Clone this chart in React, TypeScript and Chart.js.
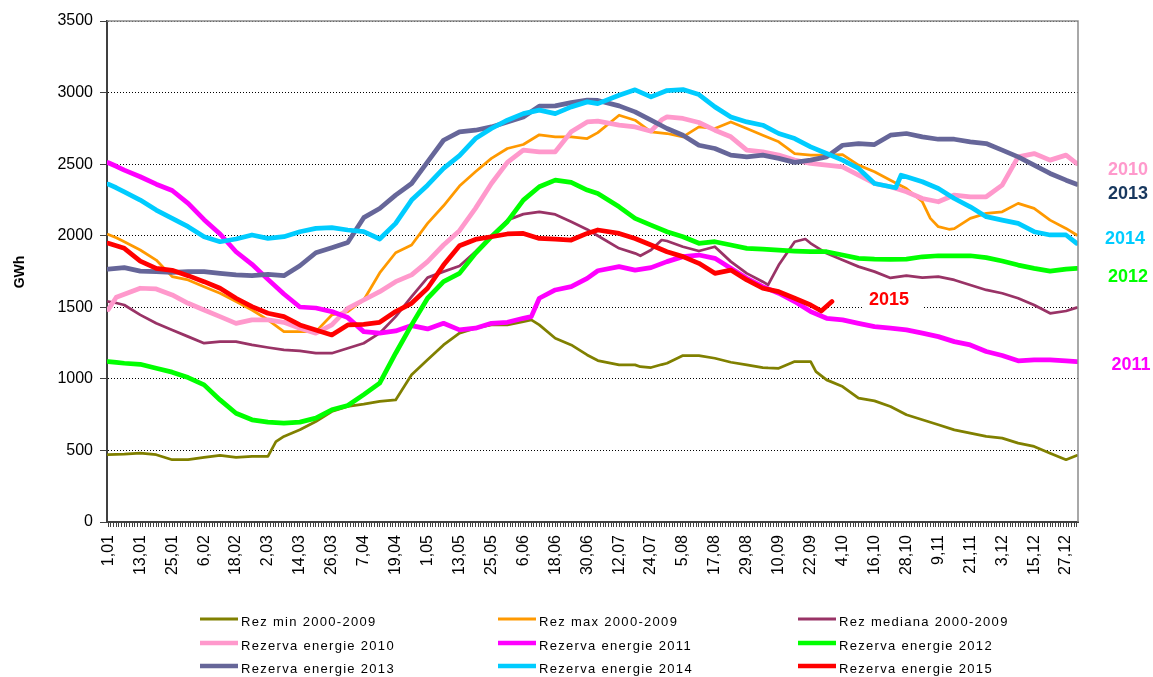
import React, { useEffect, useRef } from "react";
import { Chart, registerables } from "chart.js";

Chart.register(...registerables);

const N = null;

// day index (0 = 1 Jan) of each sampled reading
const DAYS = [
  0, 3, 6, 12, 18, 24, 30, 36, 42, 48,
  54, 60, 63, 66, 72, 78, 84, 90, 96, 102,
  108, 114, 120, 126, 132, 138, 144, 150, 156, 159,
  162, 168, 174, 180, 184, 192, 198, 200, 204, 208,
  210, 216, 222, 228, 234, 240, 246, 248, 252, 258,
  262, 264, 266, 268, 270, 272, 276, 282, 288, 294,
  296, 298, 300, 306, 309, 312, 316, 318, 324, 330,
  336, 342, 348, 354, 360, 364,
];

const TICK_LABELS = [
  "1,01", "13,01", "25,01", "6,02", "18,02", "2,03", "14,03", "26,03", "7,04", "19,04",
  "1,05", "13,05", "25,05", "6,06", "18,06", "30,06", "12,07", "24,07", "5,08", "17,08",
  "29,08", "10,09", "22,09", "4,10", "16,10", "28,10", "9,11", "21,11", "3,12", "15,12", "27,12",
];

const REZ_MIN = [
  470, 472, 474, 481, 470, 435, 435, 451, 465, 451,
  458, 458, 561, 598, 644, 702, 772, 807, 823, 842,
  853, 1028, 1133, 1237, 1319, 1354, 1377, 1377, 1400, 1412,
  1377, 1284, 1237, 1167, 1128, 1098, 1098, 1085, 1079, 1100,
  1109, 1163, 1163, 1144, 1116, 1098, 1079, 1076, 1074, 1121,
  1121, 1121, 1051, N, 993, N, 946, 865, 846, 807,
  N, N, 749, 714, N, 679, N, 644, 621, 598,
  586, 551, 528, 481, 435, 465,
];

const REZ_MAX = [
  2009, 1985, 1958, 1900, 1830, 1714, 1691, 1644, 1598, 1540,
  1481, 1412, N, 1330, 1330, 1330, 1446, 1470, 1551, 1740,
  1881, 1935, 2086, 2209, 2347, 2447, 2540, 2609, 2637, N,
  2705, 2691, 2691, 2679, 2720, 2842, 2807, N, 2726, N,
  2714, 2691, 2760, 2749, 2795, 2749, 2702, N, 2656, 2574,
  N, 2563, N, N, 2563, N, 2567, 2493, 2447, 2388,
  N, N, 2330, 2237, 2121, 2063, 2045, 2050, 2121, 2156,
  2167, 2226, 2191, 2109, 2051, 2005,
];

const REZ_MEDIANA = [
  1540, 1530, 1516, 1447, 1388, 1342, 1295, 1249, 1260, 1260,
  1237, 1219, N, 1202, 1195, 1179, 1179, 1214, 1249, 1319,
  1435, 1574, 1707, 1749, 1788, 1888, 2000, 2109, 2151, N,
  2167, 2149, 2098, 2044, 2000, 1912, 1877, 1860, 1900, 1970,
  1963, 1923, 1893, 1923, 1819, 1737, 1679, 1656, 1795, 1958,
  1977, 1947, N, N, 1877, N, 1830, 1784, 1749, 1705,
  N, N, 1721, 1707, N, 1714, N, 1691, 1656, 1621,
  1598, 1563, 1516, 1458, 1474, 1498,
];

const REZERVA_2010 = [
  1485, 1570, 1591, 1633, 1628, 1586, 1528, 1481, 1435, 1388,
  1412, 1412, N, 1395, 1354, 1319, 1377, 1493, 1551, 1609,
  1679, 1726, 1819, 1935, 2035, 2191, 2365, 2512, 2598, N,
  2586, 2586, 2726, 2795, 2800, 2772, 2760, N, 2730, 2810,
  2830, 2819, 2791, 2737, 2691, 2598, 2586, N, 2563, 2528,
  N, 2505, N, N, 2493, N, 2481, 2423, 2365, 2342,
  N, N, 2307, 2260, N, 2237, N, 2284, 2272, 2272,
  2353, 2551, 2574, 2528, 2563, 2505,
];

const REZERVA_2011 = [
  2510, 2485, 2458, 2412, 2360, 2316, 2226, 2112, 2012, 1888,
  1800, 1695, N, 1593, 1502, 1495, 1470, 1428, 1330, 1319,
  1335, 1372, 1349, 1388, 1342, 1354, 1388, 1395, 1423, 1435,
  1563, 1621, 1644, 1702, 1755, 1784, 1760, N, 1777, N,
  1819, 1854, 1865, 1842, 1772, 1702, 1644, N, 1598, 1540,
  N, 1470, N, N, 1423, N, 1412, 1388, 1365, 1354,
  N, N, 1342, 1319, N, 1295, N, 1260, 1237, 1191,
  1163, 1126, 1133, 1133, 1126, 1121,
];

const REZERVA_2012 = [
  1121, 1115, 1109, 1102, 1074, 1047, 1009, 958, 853, 760,
  714, 698, N, 691, 698, 726, 784, 814, 890, 970,
  1179, 1377, 1563, 1679, 1737, 1877, 1993, 2098, 2249, N,
  2342, 2388, 2372, 2319, 2295, 2202, 2121, N, 2074, N,
  2028, 1993, 1947, 1958, 1935, 1912, 1907, N, 1900, 1893,
  N, 1888, N, N, 1888, N, 1865, 1842, 1837, 1835,
  N, N, 1837, 1853, N, 1860, N, 1860, 1860, 1847,
  1823, 1795, 1772, 1753, 1767, 1772,
];

const REZERVA_2013 = [
  1767, 1772, 1777, 1753, 1749, 1744, 1749, 1749, 1737, 1726,
  1721, 1730, N, 1721, 1790, 1881, 1916, 1953, 2126, 2190,
  2284, 2365, 2516, 2667, 2726, 2737, 2760, 2795, 2830, N,
  2905, 2907, 2930, 2947, 2945, 2907, 2865, N, 2807, N,
  2749, 2702, 2632, 2609, 2563, 2551, 2563, N, 2540, 2512,
  N, 2528, N, N, 2551, N, 2632, 2644, 2637, 2702,
  N, N, 2714, 2691, N, 2674, N, 2674, 2656, 2644,
  2598, 2551, 2493, 2435, 2388, 2360,
];

const REZERVA_2014 = [
  2360, 2335, 2307, 2249, 2179, 2121, 2063, 1993, 1958, 1977,
  2005, 1981, N, 1993, 2028, 2051, 2056, 2040, 2028, 1977,
  2086, 2249, 2353, 2470, 2560, 2679, 2749, 2807, 2853, N,
  2877, 2853, 2900, 2935, 2923, 2981, 3019, N, 2970, N,
  3014, 3021, 2986, 2900, 2830, 2795, 2772, N, 2714, 2679,
  N, 2621, N, N, 2574, N, 2528, 2470, 2365, 2342,
  2335, 2423, 2412, 2377, N, 2330, N, 2260, 2202, 2133,
  2109, 2086, 2028, 2005, 2005, 1947,
];

const REZERVA_2015 = [
  1947, 1930, 1912, 1823, 1772, 1758, 1721, 1679, 1633, 1563,
  1505, 1458, N, 1435, 1377, 1342, 1307, 1377, 1381, 1395,
  1470, 1528, 1633, 1795, 1930, 1974, 1993, 2012, 2016, N,
  1981, 1977, 1970, 2016, 2040, 2016, 1981, N, 1935, N,
  1888, 1854, 1807, 1737, 1760, 1691, 1633, N, 1609, 1563,
  N, 1516, N, 1474, N, 1540,
];

const SERIES_LABELS = [
  "Rez min 2000-2009", "Rez max 2000-2009", "Rez mediana 2000-2009",
  "Rezerva energie 2010", "Rezerva energie 2011", "Rezerva energie 2012",
  "Rezerva energie 2013", "Rezerva energie 2014", "Rezerva energie 2015",
];
const SERIES_VALUES = [
  REZ_MIN, REZ_MAX, REZ_MEDIANA,
  REZERVA_2010, REZERVA_2011, REZERVA_2012,
  REZERVA_2013, REZERVA_2014, REZERVA_2015,
];
const SERIES_COLORS = [
  "#808000", "#FF9900", "#993366",
  "#FF99CC", "#FF00FF", "#00FF00",
  "#666699", "#00CCFF", "#FF0000",
];
const SERIES_WIDTHS = [2.75, 2.75, 2.75, 4.75, 4.75, 4.75, 4.75, 4.75, 4.75];

const YEAR_LABELS = ["2010", "2013", "2014", "2012", "2011"];
const YEAR_COLORS = ["#FF99CC", "#17375E", "#00CCFF", "#00FF00", "#FF00FF"];

const FONT = "'Liberation Sans', Arial, sans-serif";

export default function App() {
  const ref = useRef<HTMLCanvasElement>(null);

  useEffect(() => {
    if (!ref.current) return;
    const toPoints = (vals: (number | null)[]) =>
      DAYS.map((d, i) => ({ x: d, y: vals[i] })).filter(
        (p) => p.y !== null && p.y !== undefined
      );

    const datasets = SERIES_VALUES.map((vals, i) => ({
      label: SERIES_LABELS[i],
      data: toPoints(vals),
      borderColor: SERIES_COLORS[i],
      backgroundColor: SERIES_COLORS[i],
      borderWidth: SERIES_WIDTHS[i],
      pointRadius: 0,
      fill: false,
      tension: 0,
    })).reverse();

    const dayTicks = Array.from({ length: 365 }, (_, i) => i);

    const decor = {
      id: "decor",
      afterDatasetsDraw(chart: any) {
        const { ctx, chartArea } = chart;
        ctx.save();
        // top and right frame
        ctx.strokeStyle = "#8c8c8c";
        ctx.lineWidth = 1.5;
        ctx.beginPath();
        ctx.moveTo(chartArea.left, chartArea.top);
        ctx.lineTo(chartArea.right, chartArea.top);
        ctx.lineTo(chartArea.right, chartArea.bottom);
        ctx.stroke();
        // 2015 label with white backdrop
        ctx.fillStyle = "#fff";
        ctx.fillRect(862, 291, 60, 20);
        ctx.fillStyle = "#FF0000";
        ctx.font = `bold 18px ${FONT}`;
        ctx.textAlign = "center";
        ctx.textBaseline = "middle";
        ctx.fillText("2015", 889, 300);
        ctx.restore();
      },
      afterDraw(chart: any) {
        const { ctx } = chart;
        ctx.save();
        // y title
        ctx.translate(20, 272);
        ctx.rotate(-Math.PI / 2);
        ctx.font = `bold 14px ${FONT}`;
        ctx.fillStyle = "#000";
        ctx.textAlign = "center";
        ctx.textBaseline = "middle";
        ctx.fillText("GWh", 0, 0);
        ctx.restore();

        // year labels on the right
        ctx.save();
        ctx.font = `bold 18px ${FONT}`;
        ctx.textAlign = "center";
        ctx.textBaseline = "middle";
        const ys = [170, 194, 239, 277, 365];
        const xs = [1128, 1128, 1125, 1128, 1131];
        YEAR_LABELS.forEach((t, i) => {
          ctx.fillStyle = YEAR_COLORS[i];
          ctx.fillText(t, xs[i], ys[i]);
        });
        ctx.restore();

        // legend grid
        ctx.save();
        ctx.font = `13px ${FONT}`;
        (ctx as any).letterSpacing = "1.3px";
        ctx.textBaseline = "middle";
        ctx.textAlign = "left";
        const colX = [200, 498, 798];
        const rowY = [622, 646, 669];
        SERIES_LABELS.forEach((lbl, i) => {
          const c = i % 3;
          const r = Math.floor(i / 3);
          const x = colX[c];
          const y = rowY[r];
          ctx.strokeStyle = SERIES_COLORS[i];
          ctx.lineWidth = SERIES_WIDTHS[i] > 3 ? 4.5 : 3;
          ctx.beginPath();
          ctx.moveTo(x, y - 3);
          ctx.lineTo(x + 38, y - 3);
          ctx.stroke();
          ctx.fillStyle = "#000";
          ctx.fillText(lbl, x + 41, y);
        });
        ctx.restore();
      },
    };

    const chart = new Chart(ref.current, {
      type: "line",
      data: { datasets },
      options: {
        responsive: false,
        animation: false,
        devicePixelRatio: 1,
        layout: { padding: { left: 0, top: 21, right: 75, bottom: 0 } },
        plugins: {
          legend: { display: false },
          tooltip: { enabled: false },
          title: { display: false },
        },
        elements: {
          point: { radius: 0 },
          line: { borderJoinStyle: "round", borderCapStyle: "round" },
        },
        scales: {
          x: {
            type: "linear",
            min: -0.5,
            max: 364.5,
            afterBuildTicks: (s: any) => {
              s.ticks = dayTicks.map((v) => ({ value: v }));
            },
            afterFit: (s: any) => {
              s.height = 155;
            },
            ticks: {
              autoSkip: false,
              minRotation: 90,
              maxRotation: 90,
              padding: 8,
              color: "#000",
              font: { family: FONT, size: 16 },
              callback: (v: any) =>
                Number(v) % 12 === 0 ? TICK_LABELS[Number(v) / 12] : "",
            },
            grid: {
              drawOnChartArea: false,
              drawTicks: true,
              tickLength: 5,
              tickColor: "#404040",
              tickWidth: 1,
            },
            border: { display: true, color: "#404040", width: 2 },
          },
          y: {
            min: 0,
            max: 3500,
            afterFit: (s: any) => {
              s.width = 107;
            },
            ticks: {
              stepSize: 500,
              padding: 7,
              color: "#000",
              font: { family: FONT, size: 16 },
              callback: (v: any) => String(v),
            },
            grid: {
              color: "#000",
              lineWidth: 1,
              drawTicks: true,
              tickLength: 7,
              tickColor: "#404040",
            },
            border: { display: true, color: "#404040", width: 2, dash: [1, 2] },
          },
        },
      },
      plugins: [decor],
    } as any);

    return () => chart.destroy();
  }, []);

  return (
    <div
      style={{
        position: "fixed",
        left: 0,
        top: 0,
        width: 1153,
        height: 677,
        background: "#fff",
      }}
    >
      <canvas ref={ref} width={1153} height={677} style={{ display: "block" }} />
    </div>
  );
}
